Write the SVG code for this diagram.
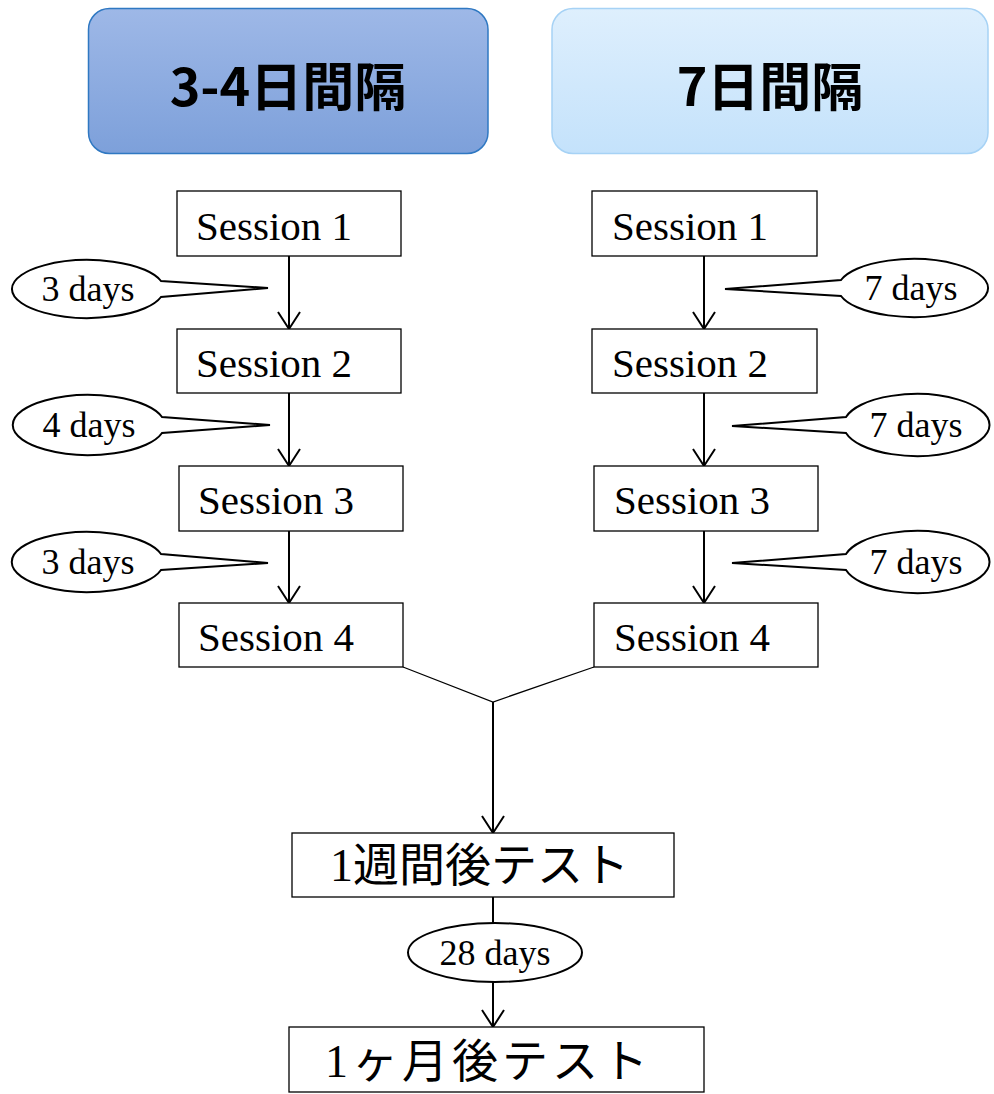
<svg xmlns="http://www.w3.org/2000/svg" width="994" height="1094" viewBox="0 0 994 1094">
  <defs>
    <linearGradient id="gLeft" x1="0" y1="0" x2="0" y2="1">
      <stop offset="0" stop-color="#9EB8E7"/>
      <stop offset="1" stop-color="#7DA0DA"/>
    </linearGradient>
    <linearGradient id="gRight" x1="0" y1="0" x2="0" y2="1">
      <stop offset="0" stop-color="#DEEFFD"/>
      <stop offset="1" stop-color="#C4E2FB"/>
    </linearGradient>
    <marker id="arrow" markerUnits="userSpaceOnUse" markerWidth="40" markerHeight="40" viewBox="-20 -20 40 40" refX="0" refY="0" orient="auto" overflow="visible">
      <path d="M -17 -11 L 0 0 L -17 11" fill="none" stroke="#000" stroke-width="2"/>
    </marker>
    <style>
      .hdr { font-family: "Noto Sans CJK JP", sans-serif; font-weight: bold; font-size: 52px; text-anchor: middle; fill: #000; }
      .box { fill: #fff; stroke: #000; stroke-width: 1.3; }
      .sess { font-family: "Liberation Serif", serif; font-size: 41px; fill: #000; }
      .call { fill: #fff; stroke: #000; stroke-width: 2; }
      .days { font-family: "Liberation Serif", serif; font-size: 36px; text-anchor: middle; fill: #000; }
      .jp { font-family: "Liberation Serif", "Noto Sans CJK JP", serif; font-size: 46px; fill: #000; }
      .arr { fill: none; stroke: #000; stroke-width: 2; marker-end: url(#arrow); }
      .ln { fill: none; stroke: #000; stroke-width: 1.3; }
      .ln2 { fill: none; stroke: #000; stroke-width: 2; }
    </style>
  </defs>

  <g id="header-left">
    <rect x="88.5" y="8.5" width="399.5" height="145" rx="21" fill="url(#gLeft)" stroke="#2F78C2" stroke-width="1.5"/>
    <text class="hdr" x="288" y="106">3-4日間隔</text>
  </g>
  <g id="header-right">
    <rect x="552" y="8.5" width="436" height="145" rx="21" fill="url(#gRight)" stroke="#A6D2F5" stroke-width="1.5"/>
    <text class="hdr" x="770" y="106">7日間隔</text>
  </g>

  <g id="connectors">
    <line class="arr" x1="289" y1="256" x2="289" y2="329"/>
    <line class="arr" x1="289" y1="393" x2="289" y2="466"/>
    <line class="arr" x1="289" y1="531" x2="289" y2="603"/>
    <line class="arr" x1="704" y1="256" x2="704" y2="329"/>
    <line class="arr" x1="704" y1="393" x2="704" y2="466"/>
    <line class="arr" x1="704" y1="531" x2="704" y2="603"/>
    <polyline class="ln" points="403,667 493,702 594,667"/>
    <line class="arr" x1="493" y1="702" x2="493" y2="833"/>
    <line class="ln2" x1="493" y1="897" x2="493" y2="923"/>
    <line class="arr" x1="493" y1="982" x2="493" y2="1027"/>
  </g>

  <g id="left-s1"><rect class="box" x="177" y="191" width="224" height="65"/><text class="sess" x="196" y="240">Session 1</text></g>
  <g id="left-s2"><rect class="box" x="177" y="329" width="224" height="64"/><text class="sess" x="196" y="377">Session 2</text></g>
  <g id="left-s3"><rect class="box" x="179" y="466" width="224" height="65"/><text class="sess" x="198" y="514">Session 3</text></g>
  <g id="left-s4"><rect class="box" x="179" y="603" width="224" height="64"/><text class="sess" x="198" y="651">Session 4</text></g>

  <g id="right-s1"><rect class="box" x="592" y="191" width="225" height="65"/><text class="sess" x="612" y="240">Session 1</text></g>
  <g id="right-s2"><rect class="box" x="592" y="329" width="225" height="64"/><text class="sess" x="612" y="377">Session 2</text></g>
  <g id="right-s3"><rect class="box" x="594" y="466" width="224" height="65"/><text class="sess" x="614" y="514">Session 3</text></g>
  <g id="right-s4"><rect class="box" x="594" y="603" width="224" height="64"/><text class="sess" x="614" y="651">Session 4</text></g>

  <g id="call-left-1">
    <path class="call" d="M 161 281 A 76 29 0 1 0 161 297 L 268 288 Z"/>
    <text class="days" x="88" y="301">3 days</text>
  </g>
  <g id="call-left-2">
    <path class="call" d="M 162 417 A 76 30 0 1 0 162 433 L 270 425 Z"/>
    <text class="days" x="89" y="437">4 days</text>
  </g>
  <g id="call-left-3">
    <path class="call" d="M 161 554 A 76 30 0 1 0 161 570 L 268 563 Z"/>
    <text class="days" x="88" y="574">3 days</text>
  </g>

  <g id="call-right-1">
    <path class="call" d="M 841 280 A 75 29 0 1 1 841 296 L 725 289 Z"/>
    <text class="days" x="911" y="300">7 days</text>
  </g>
  <g id="call-right-2">
    <path class="call" d="M 846 417 A 73 31 0 1 1 846 433 L 732 426 Z"/>
    <text class="days" x="916" y="437">7 days</text>
  </g>
  <g id="call-right-3">
    <path class="call" d="M 846 554 A 73 31 0 1 1 846 570 L 732 563 Z"/>
    <text class="days" x="916" y="574">7 days</text>
  </g>

  <g id="test-1week">
    <rect class="box" x="292" y="833" width="382" height="64"/>
    <text class="jp" x="330" y="881">1週間後テスト</text>
  </g>
  <g id="interval-28">
    <ellipse class="call" cx="495" cy="952.5" rx="87" ry="29.5"/>
    <text class="days" x="495" y="965">28 days</text>
  </g>
  <g id="test-1month">
    <rect class="box" x="289" y="1027" width="415" height="65"/>
    <text class="jp" x="325" y="1077" letter-spacing="4">1ヶ月後テスト</text>
  </g>
</svg>
